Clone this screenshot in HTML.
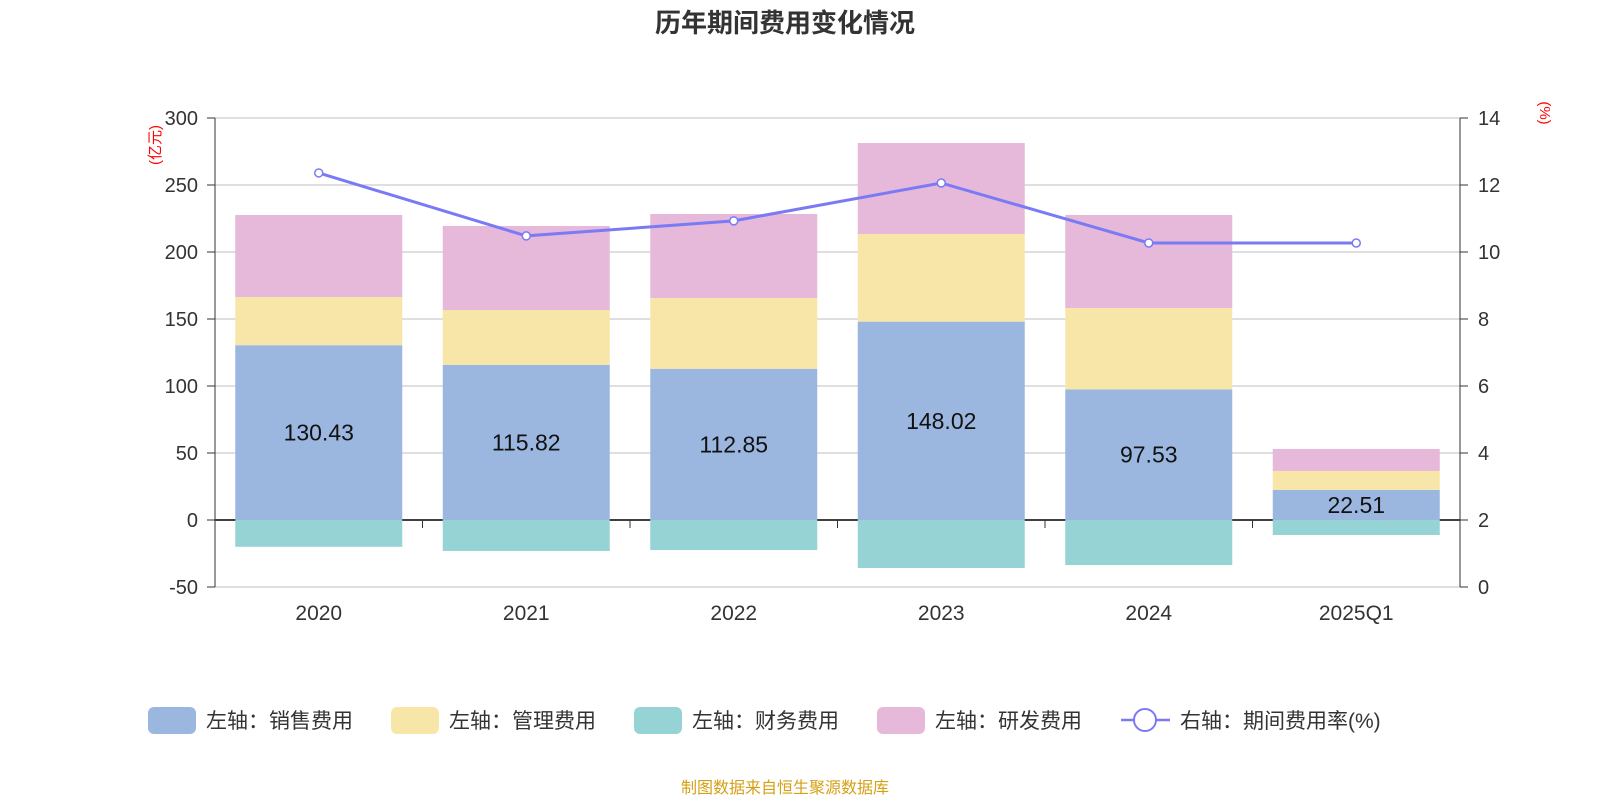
<!DOCTYPE html>
<html><head><meta charset="utf-8"><style>
body{margin:0;background:#fff;font-family:"Liberation Sans","Noto Sans CJK SC",sans-serif}
svg text{font-family:"Liberation Sans","Noto Sans CJK SC",sans-serif}
</style></head><body>
<svg id="c" width="1600" height="800">
<text x="785" y="32" text-anchor="middle" font-size="26" font-weight="bold" fill="#333">历年期间费用变化情况</text>
<text x="160" y="145" font-size="15" fill="red" transform="rotate(-90 160 145)" text-anchor="middle">(亿元)</text>
<text x="1540" y="113" font-size="15" fill="red" transform="rotate(90 1540 113)" text-anchor="middle">(%)</text>
<g id="grid"></g><g id="bars"></g><g id="line"></g><g id="axes"></g>
<g id="legend"></g>
<text x="785" y="793" text-anchor="middle" font-size="16" fill="#d4a017">制图数据来自恒生聚源数据库</text>
</svg>
<script>
const categories=["2020","2021","2022","2023","2024","2025Q1"];
const sales=[130.43,115.82,112.85,148.02,97.53,22.51];
const mgmt=[36.0,40.9,52.8,65.4,60.7,14.1];
const finance=[-20.0,-23.1,-22.4,-35.8,-33.6,-11.2];
const rnd=[61.2,62.7,62.7,67.9,69.4,16.4];
const rate=[12.36,10.48,10.93,12.06,10.27,10.27];
const leftTicks=[-50,0,50,100,150,200,250,300];
const rightTicks=[0,2,4,6,8,10,12,14];
const NS="http://www.w3.org/2000/svg";
const X0=215,X1=1460,bw=(X1-X0)/categories.length,barW=167;
const yL=v=>520-v*1.34, yR=v=>587-v*33.5, xc=i=>X0+bw*(i+0.5);
function mk(t,a,p){const e=document.createElementNS(NS,t);for(const k in a)e.setAttribute(k,a[k]);document.getElementById(p).appendChild(e);return e;}
leftTicks.forEach((v,i)=>{
 const g=mk("line",{x1:X0,x2:X1,y1:yL(v),y2:yL(v),stroke:v===0?"#000":"#ccc","stroke-width":v===0?1.5:1.2},"grid");
 
 
 const t=mk("text",{x:198,y:yL(v)+7,"text-anchor":"end","font-size":20,fill:"#333"},"axes");t.textContent=v;
 
 
 mk("line",{x1:X0-8,x2:X0,y1:yL(v),y2:yL(v),stroke:"#333"},"axes");
});
rightTicks.forEach(v=>{
 const t=mk("text",{x:1478,y:yR(v)+7,"font-size":20,fill:"#333"},"axes");t.textContent=v;
 
 
 mk("line",{x1:X1,x2:X1+8,y1:yR(v),y2:yR(v),stroke:"#333"},"axes");
});
mk("line",{x1:X0,x2:X0,y1:yL(300),y2:yL(-50),stroke:"#333"},"axes");
mk("line",{x1:X1,x2:X1,y1:yR(14),y2:yR(0),stroke:"#333"},"axes");
for(let i=1;i<categories.length;i++)mk("line",{x1:X0+bw*i,x2:X0+bw*i,y1:520,y2:528,stroke:"#333"},"axes");
categories.forEach((c,i)=>{
 const x=xc(i)-barW/2;
 const segs=[[0,sales[i],"#9bb7e0","bar-sales"],[sales[i],sales[i]+mgmt[i],"#f8e6a8","bar-mgmt"],[sales[i]+mgmt[i],sales[i]+mgmt[i]+rnd[i],"#e6b8d9","bar-rnd"],[finance[i],0,"#96d3d4","bar-finance"]];
 segs.forEach(s=>{const r=mk("rect",{x:x,width:barW,y:yL(s[1]),height:yL(s[0])-yL(s[1]),fill:s[2]},"bars");
  
  });
 const t=mk("text",{x:xc(i),y:yL(sales[i]/2)+8,"text-anchor":"middle","font-size":23,fill:"#111"},"bars");t.textContent=sales[i].toFixed(2);
 
 
 const l=mk("text",{x:xc(i),y:620,"text-anchor":"middle","font-size":21,fill:"#333"},"axes");l.textContent=c;
 
 
});
const pl=mk("polyline",{points:rate.map((v,i)=>xc(i)+","+yR(v)).join(" "),fill:"none",stroke:"#7a7af5","stroke-width":3},"line");


rate.forEach((v,i)=>{const p=mk("circle",{cx:xc(i),cy:yR(v),r:4,fill:"#fff",stroke:"#7a7af5","stroke-width":1.5},"line");
 
 });
const leg=[["左轴：销售费用","#9bb7e0",148],["左轴：管理费用","#f8e6a8",391],["左轴：财务费用","#96d3d4",634],["左轴：研发费用","#e6b8d9",877]];
leg.forEach(l=>{const r=mk("rect",{x:l[2],y:707,width:48,height:27,rx:6,fill:l[1]},"legend");
 
 
 const t=mk("text",{x:l[2]+58,y:728,"font-size":21,fill:"#333"},"legend");t.textContent=l[0];
 
 });
mk("line",{x1:1121,x2:1170,y1:720,y2:720,stroke:"#7a7af5","stroke-width":2.5},"legend");
mk("circle",{cx:1145,cy:720,r:11,fill:"#fff",stroke:"#7a7af5","stroke-width":2},"legend");
const lt=mk("text",{x:1180,y:728,"font-size":21,fill:"#333"},"legend");lt.textContent="右轴：期间费用率(%)";


</script>
</body></html>
